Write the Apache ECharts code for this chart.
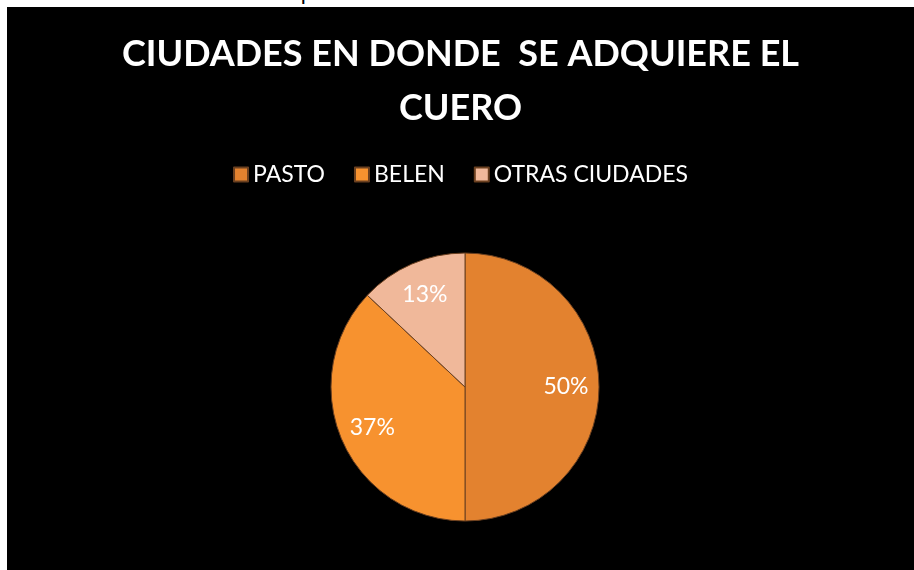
<!DOCTYPE html>
<html>
<head>
<meta charset="utf-8">
<script src="https://cdn.jsdelivr.net/npm/echarts@6/dist/echarts.min.js"></script>
<style>
  html, body { margin: 0; padding: 0; background: #fff; width: 914px; height: 570px; overflow: hidden; position: relative; }
  .caption { position: absolute; left: 0; top: -19px; font-family: 'Liberation Sans', Arial, sans-serif; font-size: 22px; line-height: 22px; color: #000; white-space: nowrap; }
  #chart { position: absolute; left: 7px; top: 7px; width: 907px; height: 563px; }
</style>
</head>
<body>
<div class="caption">3.3. Ciudades en donde se adquiere el cuero</div>
<div id="chart"></div>
<script>
const cities = ['PASTO', 'BELEN', 'OTRAS CIUDADES'];
const shares = [50, 37, 13];
const sliceColors = ['#e3822f', '#f7922f', '#f0b89a'];

const chart = echarts.init(document.getElementById('chart'));
const font = 'Lato, "Open Sans", sans-serif';

const pieData = cities.map(function (name, i) {
	return {
		name: name,
		value: shares[i],
		itemStyle: { color: sliceColors[i] }
	};
});

const option = {
	backgroundColor: '#000',
	animation: false,
	title: {
		text: 'CIUDADES EN DONDE  SE ADQUIERE EL\nCUERO',
		left: 'center',
		top: 15,
		textStyle: {
			color: '#fff',
			fontFamily: font,
			fontWeight: 'bold',
			fontSize: 36,
			lineHeight: 54
		}
	},
	legend: {
		top: 151,
		left: 'center',
		icon: 'rect',
		itemWidth: 14,
		itemHeight: 14,
		itemGap: 29,
		data: cities,
		textStyle: {
			color: '#fff',
			fontFamily: font,
			fontSize: 23
		}
	},
	series: [
		{
			type: 'pie',
			center: [458, 380],
			radius: [0, 134],
			startAngle: 90,
			clockwise: true,
			silent: true,
			itemStyle: {
				borderColor: '#6b4020',
				borderWidth: 1
			},
			label: { show: false },
			labelLine: { show: false },
			data: pieData
		},
		{
			// transparent ring only used to place the percentage labels further out
			type: 'pie',
			center: [458, 380],
			radius: [0, 196],
			startAngle: 90,
			clockwise: true,
			silent: true,
			legendHoverLink: false,
			itemStyle: { color: 'rgba(0,0,0,0)', borderWidth: 0 },
			label: {
				show: true,
				position: 'inside',
				formatter: '{c}%',
				color: '#fff',
				fontFamily: font,
				fontSize: 23
			},
			labelLine: { show: false },
			data: cities.map(function (name, i) {
				return { name: name, value: shares[i], itemStyle: { color: 'rgba(0,0,0,0)' } };
			})
		}
	]
};

chart.setOption(option);
</script>
</body>
</html>
